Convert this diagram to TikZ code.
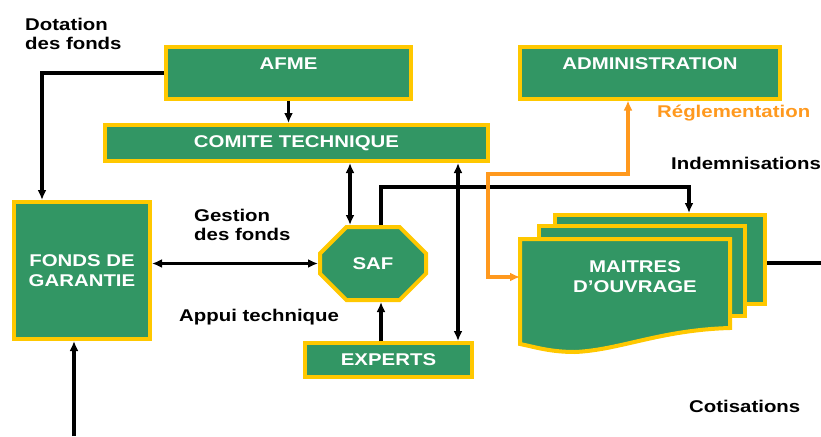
\documentclass[tikz,border=0pt]{standalone}
\usepackage{fontspec}
\setmainfont{Liberation Sans}[FakeStretch=1.2]
\usetikzlibrary{arrows.meta,shapes.misc}
\definecolor{boxgreen}{RGB}{50,150,100}
\definecolor{boxgold}{RGB}{255,200,0}
\definecolor{flowora}{RGB}{255,153,30}
\begin{document}
\begin{tikzpicture}
  [x=1pt,y=-1pt,>={Latex[length=10pt,width=9pt]},
   every node/.style={font=\fontsize{17}{19.5}\selectfont\bfseries},
   box/.style={draw=boxgold,fill=boxgreen,line width=4pt,text=white,align=center,inner sep=0pt},
   toptext/.style={inner ysep=10pt,text height=12pt,text depth=19pt},
   lbl/.style={anchor=west,inner sep=0pt,align=left},
   flow/.style={line width=3.4pt}]
\useasboundingbox (0,0) rectangle (821,436);
% boxes
\node (afme)[box,toptext,minimum width=245pt] at (288.5,73) {AFME};
  \node (admin)[box,toptext,minimum width=260pt] at (650,73) {ADMINISTRATION};
  \node (comite)[box,minimum width=383pt,minimum height=36pt] at (296.5,143) {COMITE TECHNIQUE};
  \node (fonds)[box,minimum width=136pt,minimum height=137pt] at (82,270.5) {FONDS DE\\GARANTIE};
  \node (saf)[box,chamfered rectangle,chamfered rectangle xsep=29pt,chamfered rectangle ysep=21pt,
    minimum width=106pt,minimum height=73pt] at (373,263.5) {SAF};
  \node (experts)[box,minimum width=167pt,minimum height=34pt] at (388.5,360) {EXPERTS};
% maitres d'ouvrage, three sheets
\node (page3)[box,minimum width=210pt,minimum height=89pt] at (660,259.5) {};
  \node (page2)[box,minimum width=206pt,minimum height=90pt] at (642,271) {};
  \draw[draw=boxgold,fill=boxgreen,line width=4pt]
  (520,239) -- (730,239) -- (730,328)
  .. controls (660,330) and (620,350) .. (575,352)
  .. controls (550,352) and (535,347) .. (520,344) -- cycle;
  \node (maitres)[text=white,align=center] at (635,276.5) {MAITRES\\D’OUVRAGE};
% labels
\node (dotation)[lbl] at (25,34) {Dotation\\des fonds};
  \node (gestion)[lbl] at (194,225) {Gestion\\des fonds};
  \node (appui)[lbl] at (179,317) {Appui technique};
  \node (regl)[lbl,text=flowora] at (657,113) {Réglementation};
  \node (indem)[lbl] at (671,163) {Indemnisations};
  \node (cotis)[lbl] at (689,406) {Cotisations};
\coordinate (indembend) at (689,187);
  \coordinate (reglbend) at (488,174);
  \coordinate (molft) at (520,277);
  \coordinate (fondsin) at (74,436);
  \coordinate (cotout) at (821,263);
% connectors
\draw[flow,->] (afme.west) -| ([xshift=-40pt]fonds.north);
  \draw[flow,->] (afme.south) -- (afme.south |- comite.north);
  \draw[flow,<->] ([xshift=-23pt]saf.north |- comite.south) -- ([xshift=-23pt]saf.north);
  \draw[flow,<->] ([xshift=69.5pt]experts.north |- comite.south) -- ([xshift=69.5pt]experts.north);
  \draw[flow,->] ([xshift=8pt]saf.north) |- (indembend) -- (indembend |- page3.north);
  \draw[flow,<->] (fonds.east |- saf.west) -- (saf.west);
  \draw[flow,->] ([xshift=-7.5pt]experts.north) -- ([xshift=-7.5pt]experts.north |- saf.south);
  \draw[flow,->] (fondsin) -- (fondsin |- fonds.south);
  \draw[flow] (page3.east |- cotout) -- (cotout);
  \draw[flow,flowora,<->] ([xshift=-22pt]admin.south) |- (reglbend) |- (molft);
\end{tikzpicture}
\end{document}
